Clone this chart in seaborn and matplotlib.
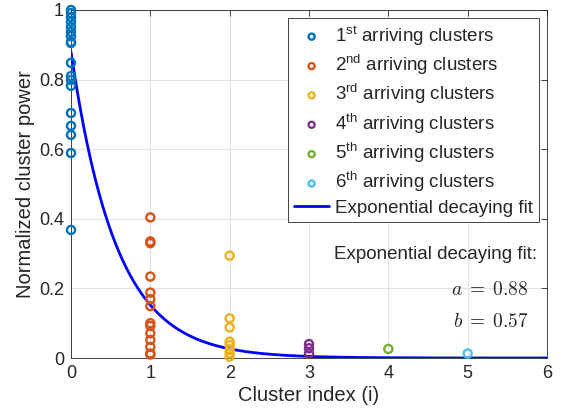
import numpy as np
import pandas as pd
import matplotlib
matplotlib.use('Agg')
import matplotlib.pyplot as plt
import seaborn as sns

# cluster power values, per arriving-cluster order
first = [1.0, 0.991, 0.98, 0.966, 0.951, 0.937, 0.925, 0.908, 0.905, 0.848,
         0.81, 0.799, 0.782, 0.704, 0.667, 0.641, 0.589, 0.368]
second = [0.404, 0.335, 0.33, 0.234, 0.188, 0.169, 0.149, 0.1, 0.092, 0.071,
          0.052, 0.032, 0.013, 0.01]
third = [0.294, 0.114, 0.088, 0.047, 0.037, 0.023, 0.013, 0.004]
fourth = [0.04, 0.028, 0.013]
fifth = [0.026]
sixth = [0.013]

groups = [first, second, third, fourth, fifth, sixth]
labels = ['1$^{\\rm st}$ arriving clusters', '2$^{\\rm nd}$ arriving clusters',
          '3$^{\\rm rd}$ arriving clusters', '4$^{\\rm th}$ arriving clusters',
          '5$^{\\rm th}$ arriving clusters', '6$^{\\rm th}$ arriving clusters']
colors = ['#0072BD', '#D95319', '#EDB120', '#7E2F8E', '#77AC30', '#4DBEEE']

# fit parameters: P(i) = a * exp(-i / b)
fit_a = 0.88
fit_b = 0.57

sns.set_style('white')
plt.rcParams['font.family'] = ['Liberation Sans', 'DejaVu Sans']
plt.rcParams['mathtext.fontset'] = 'custom'
plt.rcParams['mathtext.rm'] = 'Liberation Sans'
plt.rcParams['mathtext.it'] = 'Liberation Sans:italic'

fig = plt.figure(figsize=(5.63, 4.2), dpi=100)
ax = fig.add_axes([0.1261, 0.1476, 0.8455, 0.8286])

for i, (vals, lab, c) in enumerate(zip(groups, labels, colors)):
    df = pd.DataFrame({'idx': [i] * len(vals), 'power': vals})
    sns.scatterplot(data=df, x='idx', y='power', color=c, s=34, linewidth=1.7,
                    marker='o', label=lab, ax=ax, zorder=3, clip_on=False)
    coll = ax.collections[-1]
    coll.set_facecolor('none')
    coll.set_edgecolor(c)

xf = np.linspace(0, 6, 300)
fit_df = pd.DataFrame({'x': xf, 'y': fit_a * np.exp(-xf / fit_b)})
sns.lineplot(data=fit_df, x='x', y='y', color='#0000FF', linewidth=2,
             label='Exponential decaying fit', ax=ax, zorder=2)

ax.set_xlim(0, 6)
ax.set_ylim(0, 1)
ax.set_xticks(range(0, 7))
ax.set_yticks([0, 0.2, 0.4, 0.6, 0.8, 1.0])
ax.set_yticklabels(['0', '0.2', '0.4', '0.6', '0.8', '1'])
ax.grid(True, color='#e3e3e3', linewidth=0.8)
ax.set_axisbelow(True)
ax.tick_params(direction='in', length=4, top=True, right=True, labelsize=13,
               colors='#262626', width=0.6, pad=5)
for sp in ax.spines.values():
    sp.set_color('#262626')
    sp.set_linewidth(0.6)
ax.set_xlabel('Cluster index (i)', fontsize=14.5, color='#262626', labelpad=3)
ax.set_ylabel('Normalized cluster power', fontsize=14.5, color='#262626',
              labelpad=3)

leg = ax.legend(loc='upper right', fontsize=13.5, frameon=True, fancybox=False,
                edgecolor='#262626', framealpha=1, borderpad=0.3,
                labelspacing=0.28, handlelength=1.9, handletextpad=0.3,
                borderaxespad=0.45, markerscale=0.75)
leg.get_frame().set_linewidth(0.6)

ax.text(5.87, 0.296, 'Exponential decaying fit:', ha='right', va='center',
        fontsize=13.5, color='#262626')
ax.text(5.77, 0.195, '$a\\;=\\;%.2f$' % fit_a, ha='right', va='center',
        fontsize=14, color='#262626', math_fontfamily='cm')
ax.text(5.77, 0.103, '$b\\;=\\;%.2f$' % fit_b, ha='right', va='center',
        fontsize=14, color='#262626', math_fontfamily='cm')

fig.savefig('out.png', dpi=100)
